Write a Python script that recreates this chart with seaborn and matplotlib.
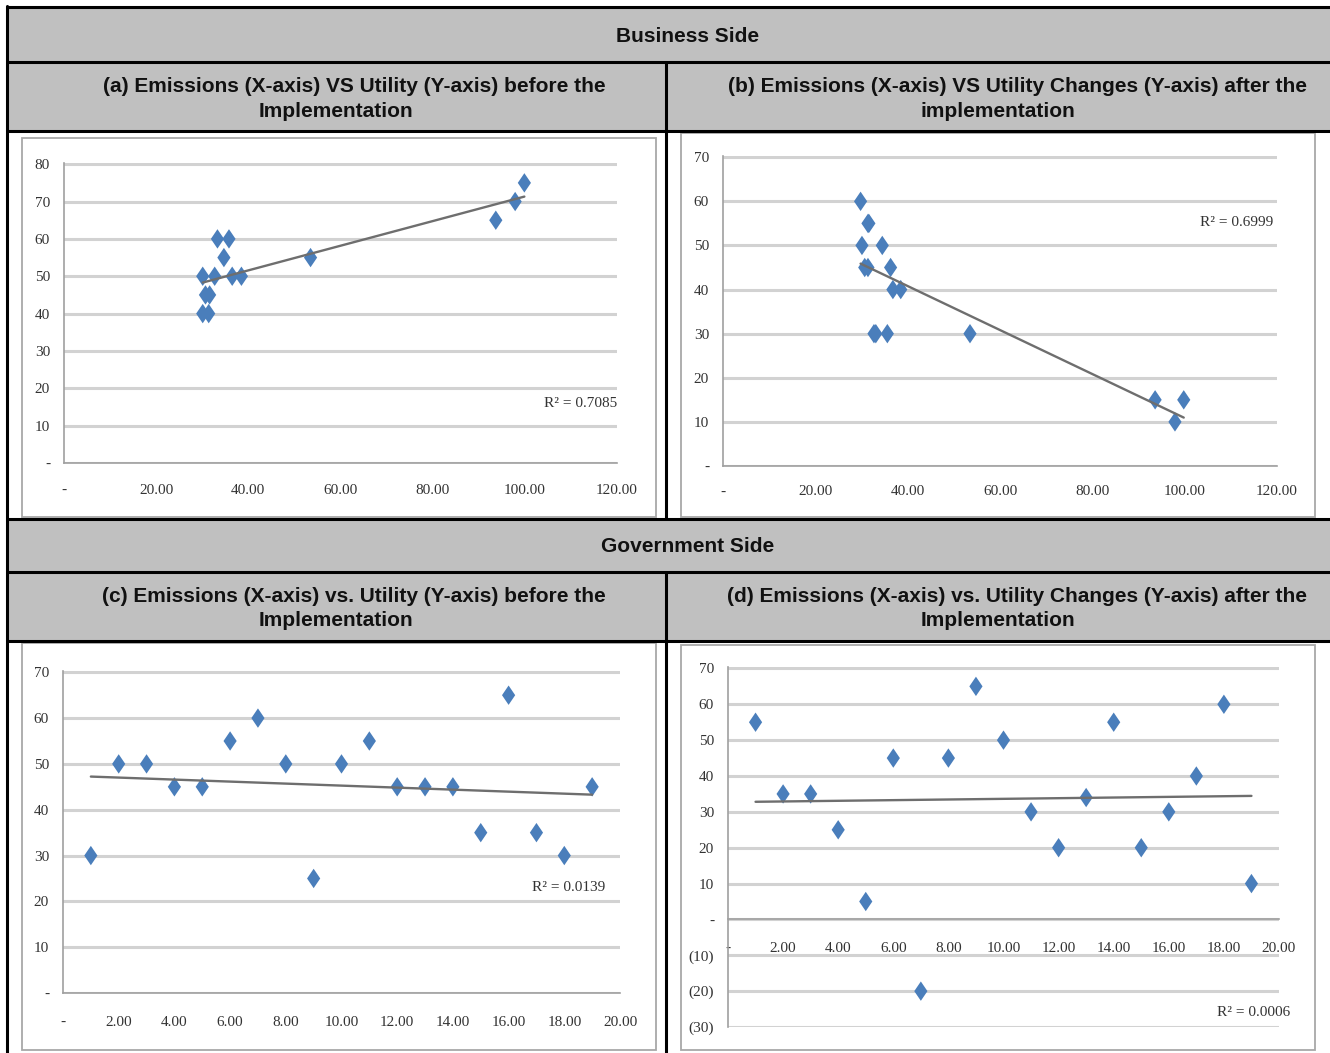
import matplotlib
matplotlib.use("Agg")
import matplotlib.pyplot as plt
from matplotlib.patches import Rectangle
from matplotlib.lines import Line2D
from matplotlib.ticker import FuncFormatter
import seaborn as sns

# (a) business side, before the implementation
a_emissions = [30.1, 30.1, 31.4, 30.7, 31.6, 32.7, 33.3, 34.7, 35.8, 36.5, 38.5, 53.5, 93.7, 97.9, 99.9]
a_utility = [50, 40, 40, 45, 45, 50, 60, 55, 60, 50, 50, 55, 65, 70, 75]

# (b) business side, after the implementation
b_emissions = [29.8, 31.4, 31.6, 30.1, 34.5, 30.7, 31.4, 36.3, 36.8, 38.5, 32.7, 33.1, 35.6, 53.5, 93.6, 97.9, 99.8]
b_change = [60, 55, 55, 50, 50, 45, 45, 45, 40, 40, 30, 30, 30, 30, 15, 10, 15]

# (c) government side, before the implementation
c_emissions = [1, 2, 3, 4, 5, 6, 7, 8, 9, 10, 11, 12, 13, 14, 15, 16, 17, 18, 19]
c_utility = [30, 50, 50, 45, 45, 55, 60, 50, 25, 50, 55, 45, 45, 45, 35, 65, 35, 30, 45]

# (d) government side, after the implementation
d_emissions = [1, 2, 3, 4, 5, 6, 7, 8, 9, 10, 11, 12, 13, 14, 15, 16, 17, 18, 19]
d_change = [55, 35, 35, 25, 5, 45, -20, 45, 65, 50, 30, 20, 34, 55, 20, 30, 40, 60, 10]

# axis ticks and r-squared labels as printed on each chart
a_xticks = [0, 20, 40, 60, 80, 100, 120]
a_yticks = [0, 10, 20, 30, 40, 50, 60, 70, 80]
b_xticks = [0, 20, 40, 60, 80, 100, 120]
b_yticks = [0, 10, 20, 30, 40, 50, 60, 70]
c_xticks = [0, 2, 4, 6, 8, 10, 12, 14, 16, 18, 20]
c_yticks = [0, 10, 20, 30, 40, 50, 60, 70]
d_xticks = [0, 2, 4, 6, 8, 10, 12, 14, 16, 18, 20]
d_yticks = [-30, -20, -10, 0, 10, 20, 30, 40, 50, 60, 70]
r2_labels = ["R² = 0.7085", "R² = 0.6999", "R² = 0.0139", "R² = 0.0006"]

section_titles = ["Business Side", "Government Side"]
panel_titles = [
    ["(a) Emissions (X-axis) VS Utility (Y-axis) before the", "Implementation"],
    ["(b) Emissions (X-axis) VS Utility Changes (Y-axis) after the", "implementation"],
    ["(c) Emissions (X-axis) vs. Utility (Y-axis) before the", "Implementation"],
    ["(d) Emissions (X-axis) vs. Utility Changes (Y-axis) after the", "Implementation"],
]

sns.set_style("white")
plt.rcParams['font.family'] = ['Liberation Serif', 'DejaVu Serif']

W, H = 1330, 1053
fig = plt.figure(figsize=(W / 100, H / 100), dpi=100)
BLUE = '#4a7ebb'
GRAY_FILL = '#c0c0c0'
# Excel-style tall diamond
DIAMOND = [(0, 1), (0.68, 0), (0, -1), (-0.68, 0), (0, 1)]


def fx(x):
    return x / W


def fy(y):
    return 1 - y / H


def acct(decimals):
    def f(v, pos):
        if abs(v) < 1e-9:
            return '-'
        if v < 0:
            return f'({abs(v):.{decimals}f})'
        return f'{v:.{decimals}f}'
    return FuncFormatter(f)


# table background cells
for top, bot in [(7, 131), (519, 641)]:
    fig.add_artist(Rectangle((fx(7), fy(bot)), (W - 7) / W, (bot - top) / H,
                             transform=fig.transFigure, color=GRAY_FILL, zorder=-5))

# table rules
for y in [7, 62, 131, 519, 572, 641]:
    fig.add_artist(Line2D([fx(7), 1], [fy(y), fy(y)], transform=fig.transFigure,
                          color='black', lw=2.2, zorder=10))
fig.add_artist(Line2D([fx(7), fx(7)], [fy(6), 0], transform=fig.transFigure,
                      color='black', lw=2.2, zorder=10))
for y0, y1 in [(62, 519), (572, H)]:
    fig.add_artist(Line2D([fx(666), fx(666)], [fy(y0), fy(y1)], transform=fig.transFigure,
                          color='black', lw=2.2, zorder=10))

# header texts
hdr = dict(ha='center', va='center', fontsize=15, fontweight='bold',
           family=['Liberation Sans', 'DejaVu Sans'], color='#111111')
fig.text(fx(688), fy(37), section_titles[0], **hdr)
fig.text(fx(688), fy(547), section_titles[1], **hdr)
title_pos = [(354, 336, 87), (1017, 998, 87), (354, 336, 596), (1017, 998, 596)]
for (x1, x2, y), lines in zip(title_pos, panel_titles):
    fig.text(fx(x1), fy(y), lines[0], **hdr)
    fig.text(fx(x2), fy(y + 25), lines[1], **hdr)


def panel(box, area, x, y, xticks, yticks, xdec, r2, r2_xy, xpad, zero_axis=False):
    l, t, r, b = box
    fig.add_artist(Rectangle((fx(l), fy(b)), (r - l) / W, (b - t) / H,
                             transform=fig.transFigure, fill=False,
                             ec='#a8a8a8', lw=1.3, zorder=2))
    l, t, r, b = area
    ax = fig.add_axes([fx(l), fy(b), (r - l) / W, (b - t) / H])
    ax.patch.set_alpha(0)
    sns.regplot(x=x, y=y, ax=ax, ci=None, marker=DIAMOND, truncate=True,
                scatter_kws=dict(s=195, color=BLUE, alpha=1, edgecolors='none', zorder=3),
                line_kws=dict(color='#6e6e6e', lw=1.7, zorder=4))
    ax.set_xlim(xticks[0], xticks[-1])
    ax.set_ylim(yticks[0], yticks[-1] + 0.004 * (yticks[-1] - yticks[0]))
    ax.set_xticks(xticks)
    ax.set_yticks(yticks)
    ax.xaxis.set_major_formatter(acct(xdec))
    ax.yaxis.set_major_formatter(acct(0))
    ax.set_xlabel('')
    ax.set_ylabel('')
    ax.yaxis.grid(True, color='#d2d2d2', lw=2.2)
    ax.xaxis.grid(False)
    ax.set_axisbelow(True)
    for s in ['top', 'right']:
        ax.spines[s].set_visible(False)
    for s in ['left', 'bottom']:
        ax.spines[s].set_color('#a0a0a0')
        ax.spines[s].set_linewidth(1.2)
    if zero_axis:
        ax.spines['bottom'].set_position(('data', 0))
    ax.tick_params(axis='both', direction='out', length=4, width=1,
                   color='#a0a0a0', labelcolor='#333333', labelsize=11)
    ax.tick_params(axis='y', pad=6)
    ax.tick_params(axis='x', pad=xpad)
    ax.text(r2_xy[0], r2_xy[1], r2, transform=ax.transAxes, ha='right', va='center',
            fontsize=11, color='#333333')
    return ax


panel((22, 138, 656, 517), (64, 163, 617, 463), a_emissions, a_utility,
      a_xticks, a_yticks, 2, r2_labels[0], (1.0, 0.197), 11)
panel((681, 133, 1315, 517), (723, 156, 1277, 466), b_emissions, b_change,
      b_xticks, b_yticks, 2, r2_labels[1], (0.993, 0.784), 10)
panel((22, 643, 656, 1050), (63, 671, 620, 993), c_emissions, c_utility,
      c_xticks, c_yticks, 2, r2_labels[2], (0.973, 0.329), 12.5)
panel((681, 645, 1315, 1050), (728, 667, 1279, 1027), d_emissions, d_change,
      d_xticks, d_yticks, 2, r2_labels[3], (1.02, 0.039), 12.5, zero_axis=True)

fig.savefig("out.png", dpi=100)
